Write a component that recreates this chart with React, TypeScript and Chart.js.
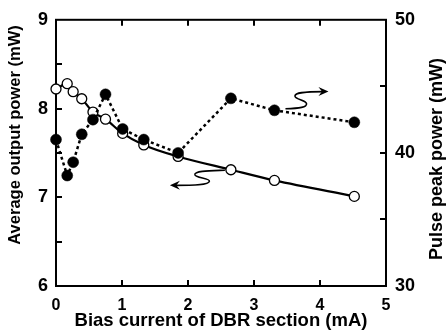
import React, { useEffect, useRef } from 'react';
import { Chart, registerables } from 'chart.js';

Chart.register(...registerables);

// Data
const biasCurrent = [0.0, 0.17, 0.26, 0.39, 0.56, 0.75, 1.01, 1.33, 1.85, 2.65, 3.31, 4.52];
const averagePower = [8.22, 8.28, 8.19, 8.11, 7.96, 7.88, 7.72, 7.59, 7.46, 7.31, 7.19, 7.01];
const pulsePeakPower = [41.0, 38.3, 39.3, 41.4, 42.5, 44.4, 41.8, 41.0, 40.0, 44.1, 43.2, 42.3];

const xTickValues = [1, 2, 3, 4];
const leftTickValues = [6.5, 7, 7.5, 8, 8.5];
const rightTickValues = [35, 40, 45];

const xTitle = 'Bias current of DBR section (mA)';
const leftTitle = 'Average output power (mW)';
const rightTitle = 'Pulse peak power (mW)';

const FONT = '"Liberation Sans", Arial, Helvetica, sans-serif';

const decorPlugin = {
  id: 'decor',
  beforeDatasetsDraw(chart: any) {
    const { ctx, chartArea } = chart;
    const { left, right, top, bottom } = chartArea;
    const xs = chart.scales.x;
    const ys = chart.scales.y;
    const y1 = chart.scales.y1;
    ctx.save();
    ctx.strokeStyle = '#000';
    ctx.lineWidth = 2;
    ctx.strokeRect(left, top, right - left, bottom - top);
    const tl = 6;
    ctx.beginPath();
    xTickValues.forEach((v) => {
      const px = Math.round(xs.getPixelForValue(v));
      ctx.moveTo(px, bottom);
      ctx.lineTo(px, bottom - tl);
      ctx.moveTo(px, top);
      ctx.lineTo(px, top + tl);
    });
    leftTickValues.forEach((v) => {
      const py = Math.round(ys.getPixelForValue(v));
      ctx.moveTo(left, py);
      ctx.lineTo(left + tl, py);
    });
    rightTickValues.forEach((v) => {
      const py = Math.round(y1.getPixelForValue(v));
      ctx.moveTo(right, py);
      ctx.lineTo(right - tl, py);
    });
    ctx.stroke();

    // axis titles (both read bottom-to-top)
    ctx.fillStyle = '#000';
    ctx.textAlign = 'center';
    ctx.textBaseline = 'middle';
    ctx.font = `bold 16.5px ${FONT}`;
    ctx.save();
    ctx.translate(15, 135);
    ctx.rotate(-Math.PI / 2);
    ctx.fillText(leftTitle, 0, 0);
    ctx.restore();
    ctx.font = `bold 18px ${FONT}`;
    ctx.save();
    ctx.translate(437, 159);
    ctx.rotate(-Math.PI / 2);
    ctx.fillText(rightTitle, 0, 0);
    ctx.restore();
    ctx.restore();
  },
  afterDatasetsDraw(chart: any) {
    const { ctx } = chart;
    const xs = chart.scales.x;
    const ys = chart.scales.y;
    const y1 = chart.scales.y1;
    ctx.save();
    ctx.strokeStyle = '#000';
    ctx.fillStyle = '#000';
    ctx.lineWidth = 1.6;

    // left-pointing squiggle arrow (average power curve -> left axis)
    const ax = xs.getPixelForValue(biasCurrent[9]);
    const ay = ys.getPixelForValue(averagePower[9]);
    ctx.beginPath();
    ctx.moveTo(ax - 6, ay + 0.5);
    ctx.bezierCurveTo(ax - 20, ay + 1, ax - 37, ay + 1, ax - 36, ay + 5);
    ctx.bezierCurveTo(ax - 35, ay + 8.5, ax - 21, ay + 8, ax - 21.5, ay + 11.5);
    ctx.bezierCurveTo(ax - 22, ay + 15.5, ax - 38, ay + 15.6, ax - 56, ay + 15.6);
    ctx.stroke();
    let tx = ax - 61, ty = ay + 15.6;
    ctx.beginPath();
    ctx.moveTo(tx, ty);
    ctx.lineTo(tx + 10, ty - 4.5);
    ctx.lineTo(tx + 6.5, ty);
    ctx.lineTo(tx + 10, ty + 4.5);
    ctx.closePath();
    ctx.fill();

    // right-pointing squiggle arrow (pulse peak curve -> right axis)
    const bx = xs.getPixelForValue(biasCurrent[10]);
    const by = y1.getPixelForValue(pulsePeakPower[10]);
    ctx.beginPath();
    ctx.moveTo(bx + 11, by - 1.5);
    ctx.bezierCurveTo(bx + 25, by - 2, bx + 33, by - 3, bx + 32, by - 7);
    ctx.bezierCurveTo(bx + 31, by - 10.5, bx + 20, by - 11, bx + 20.5, by - 14.5);
    ctx.bezierCurveTo(bx + 21, by - 17.5, bx + 28, by - 18.5, bx + 49, by - 18.7);
    ctx.stroke();
    tx = bx + 54; ty = by - 18.8;
    ctx.beginPath();
    ctx.moveTo(tx, ty);
    ctx.lineTo(tx - 10, ty - 4.5);
    ctx.lineTo(tx - 6.5, ty);
    ctx.lineTo(tx - 10, ty + 4.5);
    ctx.closePath();
    ctx.fill();
    ctx.restore();
  },
};

export default function App() {
  const canvasRef = useRef<HTMLCanvasElement | null>(null);

  useEffect(() => {
    if (!canvasRef.current) return;
    const chart = new Chart(canvasRef.current, {
      type: 'line',
      data: {
        datasets: [
          {
            label: 'Pulse peak power',
            data: biasCurrent.map((x, i) => ({ x, y: pulsePeakPower[i] })),
            yAxisID: 'y1',
            borderColor: '#000',
            borderWidth: 2.5,
            borderDash: [3, 3],
            backgroundColor: '#000',
            pointRadius: 5.5,
            pointBackgroundColor: '#000',
            pointBorderColor: '#000',
            pointBorderWidth: 0.5,
            tension: 0,
            clip: false as any,
          },
          {
            label: 'Average output power',
            data: biasCurrent.map((x, i) => ({ x, y: averagePower[i] })),
            yAxisID: 'y',
            borderColor: '#000',
            borderWidth: 2.2,
            backgroundColor: '#fff',
            pointRadius: 5,
            pointBackgroundColor: '#fff',
            pointBorderColor: '#000',
            pointBorderWidth: 1.3,
            cubicInterpolationMode: 'monotone',
            clip: false as any,
          },
        ],
      },
      options: {
        responsive: false,
        animation: false,
        layout: { padding: { top: 15, left: 0, right: 0, bottom: 0 } },
        plugins: {
          legend: { display: false },
          tooltip: { enabled: false },
        },
        scales: {
          x: {
            type: 'linear',
            min: 0,
            max: 5,
            grid: { display: false, drawTicks: false },
            border: { display: false },
            ticks: {
              stepSize: 1,
              color: '#000',
              padding: 10,
              font: { family: FONT, size: 16, weight: 'bold' },
            },
            title: {
              display: true,
              text: xTitle,
              color: '#000',
              padding: { top: 0, bottom: 4 },
              font: { family: FONT, size: 18.5, weight: 'bold' },
            },
            afterFit: (s: any) => {
              s.height = 50;
            },
          },
          y: {
            type: 'linear',
            position: 'left',
            min: 6,
            max: 9,
            grid: { display: false, drawTicks: false },
            border: { display: false },
            ticks: {
              stepSize: 1,
              color: '#000',
              padding: 8,
              font: { family: FONT, size: 18, weight: 'bold' },
            },
            afterFit: (s: any) => {
              s.width = 56;
            },
          },
          y1: {
            type: 'linear',
            position: 'right',
            min: 30,
            max: 50,
            grid: { display: false, drawTicks: false },
            border: { display: false },
            ticks: {
              stepSize: 10,
              color: '#000',
              padding: 9,
              font: { family: FONT, size: 18, weight: 'bold' },
            },
            afterFit: (s: any) => {
              s.width = 61;
            },
          },
        },
      },
      plugins: [decorPlugin],
    });
    return () => chart.destroy();
  }, []);

  return (
    <div style={{ position: 'fixed', left: 0, top: 0, width: 447, height: 336, background: '#fff' }}>
      <canvas ref={canvasRef} width={447} height={336} />
    </div>
  );
}
